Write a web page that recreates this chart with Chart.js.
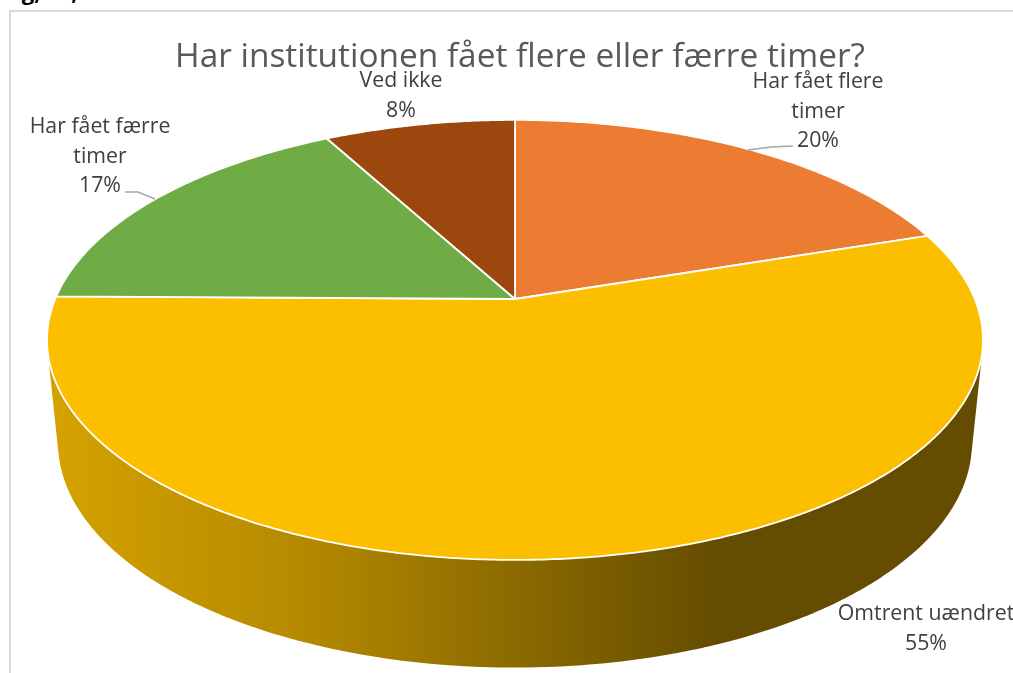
<!DOCTYPE html>
<html>
<head>
<meta charset="utf-8">
<title>Har institutionen fået flere eller færre timer?</title>
<script src="https://cdn.jsdelivr.net/npm/chart.js@4"></script>
<style>
  html, body { margin: 0; padding: 0; background: #fff; overflow: hidden; }
  canvas { display: block; }
  .fig { position: absolute; left: 3px; top: -24px; font: bold 22px/30px "Open Sans", sans-serif; color: #000; }
  .frame { position: absolute; left: 9px; top: 10px; width: 1100px; height: 800px; border: 2px solid #d9d9d9; }
  .wrap { position: absolute; left: 0; top: 0; width: 1013px; height: 673px; overflow: hidden; }
</style>
</head>
<body>
<div class="wrap">
  <div class="fig">Fig, 12,</div>
  <div class="frame"></div>
  <canvas id="pie" width="1013" height="673" style="position:absolute;left:0;top:0"></canvas>
</div>
<script>
const chartTitle = 'Har institutionen fået flere eller færre timer?';
const categories = ['Har fået flere timer', 'Omtrent uændret', 'Har fået færre timer', 'Ved ikke'];
const shares = [19.9, 55.3, 16.9, 7.9];
const sliceColors = ['#EB7C31', '#FBBF00', '#6FAC46', '#9C470D'];

// where each label sits: centre x, first baseline, text lines before the percent
const labelSpots = [
  { x: 818, y: 88, lines: ['Har fået flere', 'timer'] },
  { x: 926, y: 620, lines: ['Omtrent uændret'] },
  { x: 100, y: 133, lines: ['Har fået færre', 'timer'] },
  { x: 401, y: 87, lines: ['Ved ikke'] }
];
const leaders = [
  [[748, 150], [771, 147], [793, 146]],
  [[125, 192], [138, 192], [155, 199]]
];

// perspective of the tilted disc, top face and bottom rim
const tilt = -0.186;
const topFace = { cx: 515, cy: 299, rx: 459.8, ry: 212.4 };
const bottomRim = { cx: 515, cy: 401, rx: 449, ry: 217 };

function project(face, angle) {
  const u = Math.cos(angle);
  const v = Math.sin(angle);
  const w = 1 + tilt * v;
  return [face.cx + face.rx * u / w, face.cy + face.ry * v / w];
}

function wallGradient(ctx, color) {
  const r = parseInt(color.slice(1, 3), 16);
  const g = parseInt(color.slice(3, 5), 16);
  const b = parseInt(color.slice(5, 7), 16);
  const shade = k => `rgb(${Math.round(r * k)},${Math.round(g * k)},${Math.round(b * k)})`;
  const grad = ctx.createLinearGradient(47, 0, 983, 0);
  grad.addColorStop(0, shade(0.85));
  grad.addColorStop(0.27, shade(0.72));
  grad.addColorStop(0.72, shade(0.4));
  grad.addColorStop(1, shade(0.4));
  return grad;
}

function signedArea(p) {
  let sum = 0;
  p.forEach((q, i) => {
    const n = p[(i + 1) % p.length];
    sum += q[0] * n[1] - n[0] * q[1];
  });
  return sum;
}

const disc3d = {
  id: 'disc3d',
  beforeDatasetDraw(chart) {
    const ctx = chart.ctx;
    const arcs = chart.getDatasetMeta(0).data;
    const step = Math.PI / 180;

    ctx.save();
    ctx.lineJoin = 'round';

    // side wall: one path of same-wound quads so no seams show
    arcs.forEach(arc => {
      ctx.beginPath();
      for (let a = arc.startAngle; a < arc.endAngle; a += step) {
        const b = Math.min(a + step * 1.2, arc.endAngle);
        const p = [project(topFace, a), project(topFace, b), project(bottomRim, b), project(bottomRim, a)];
        if (signedArea(p) < 0) p.reverse();
        ctx.moveTo(p[0][0], p[0][1]);
        for (let i = 1; i < 4; i++) ctx.lineTo(p[i][0], p[i][1]);
        ctx.closePath();
      }
      ctx.fillStyle = wallGradient(ctx, arc.options.backgroundColor);
      ctx.fill();
    });

    // top face
    arcs.forEach(arc => {
      ctx.beginPath();
      ctx.moveTo(topFace.cx, topFace.cy);
      for (let a = arc.startAngle; a < arc.endAngle; a += step / 2) {
        const p = project(topFace, a);
        ctx.lineTo(p[0], p[1]);
      }
      const end = project(topFace, arc.endAngle);
      ctx.lineTo(end[0], end[1]);
      ctx.closePath();
      ctx.fillStyle = arc.options.backgroundColor;
      ctx.fill();
      ctx.strokeStyle = '#fff';
      ctx.lineWidth = 1.8;
      ctx.stroke();
    });

    ctx.restore();
    return false; // the flat arcs are replaced by the disc above
  },
  afterDraw(chart) {
    const ctx = chart.ctx;
    ctx.save();

    ctx.strokeStyle = '#a6a6a6';
    ctx.lineWidth = 1.5;
    leaders.forEach(line => {
      ctx.beginPath();
      line.forEach((p, i) => (i ? ctx.lineTo(p[0], p[1]) : ctx.moveTo(p[0], p[1])));
      ctx.stroke();
    });

    ctx.font = '21.3px "Open Sans"';
    ctx.fillStyle = '#404040';
    ctx.textAlign = 'center';
    ctx.textBaseline = 'alphabetic';
    labelSpots.forEach((spot, i) => {
      const rows = [...spot.lines, Math.round(shares[i]) + '%'];
      rows.forEach((row, r) => ctx.fillText(row, spot.x, spot.y + r * 29.5));
    });
    ctx.restore();
  }
};

new Chart(document.getElementById('pie'), {
  type: 'pie',
  data: {
    labels: categories,
    datasets: [{ data: shares, backgroundColor: sliceColors, borderWidth: 0 }]
  },
  options: {
    responsive: false,
    animation: false,
    layout: { padding: { left: 27 } },
    plugins: {
      legend: { display: false },
      tooltip: { enabled: false },
      title: {
        display: true,
        text: chartTitle,
        color: '#595959',
        font: { family: '"Open Sans"', size: 33.4, weight: 'normal' },
        padding: { top: 37, bottom: 10 }
      }
    }
  },
  plugins: [disc3d]
});
</script>
</body>
</html>
